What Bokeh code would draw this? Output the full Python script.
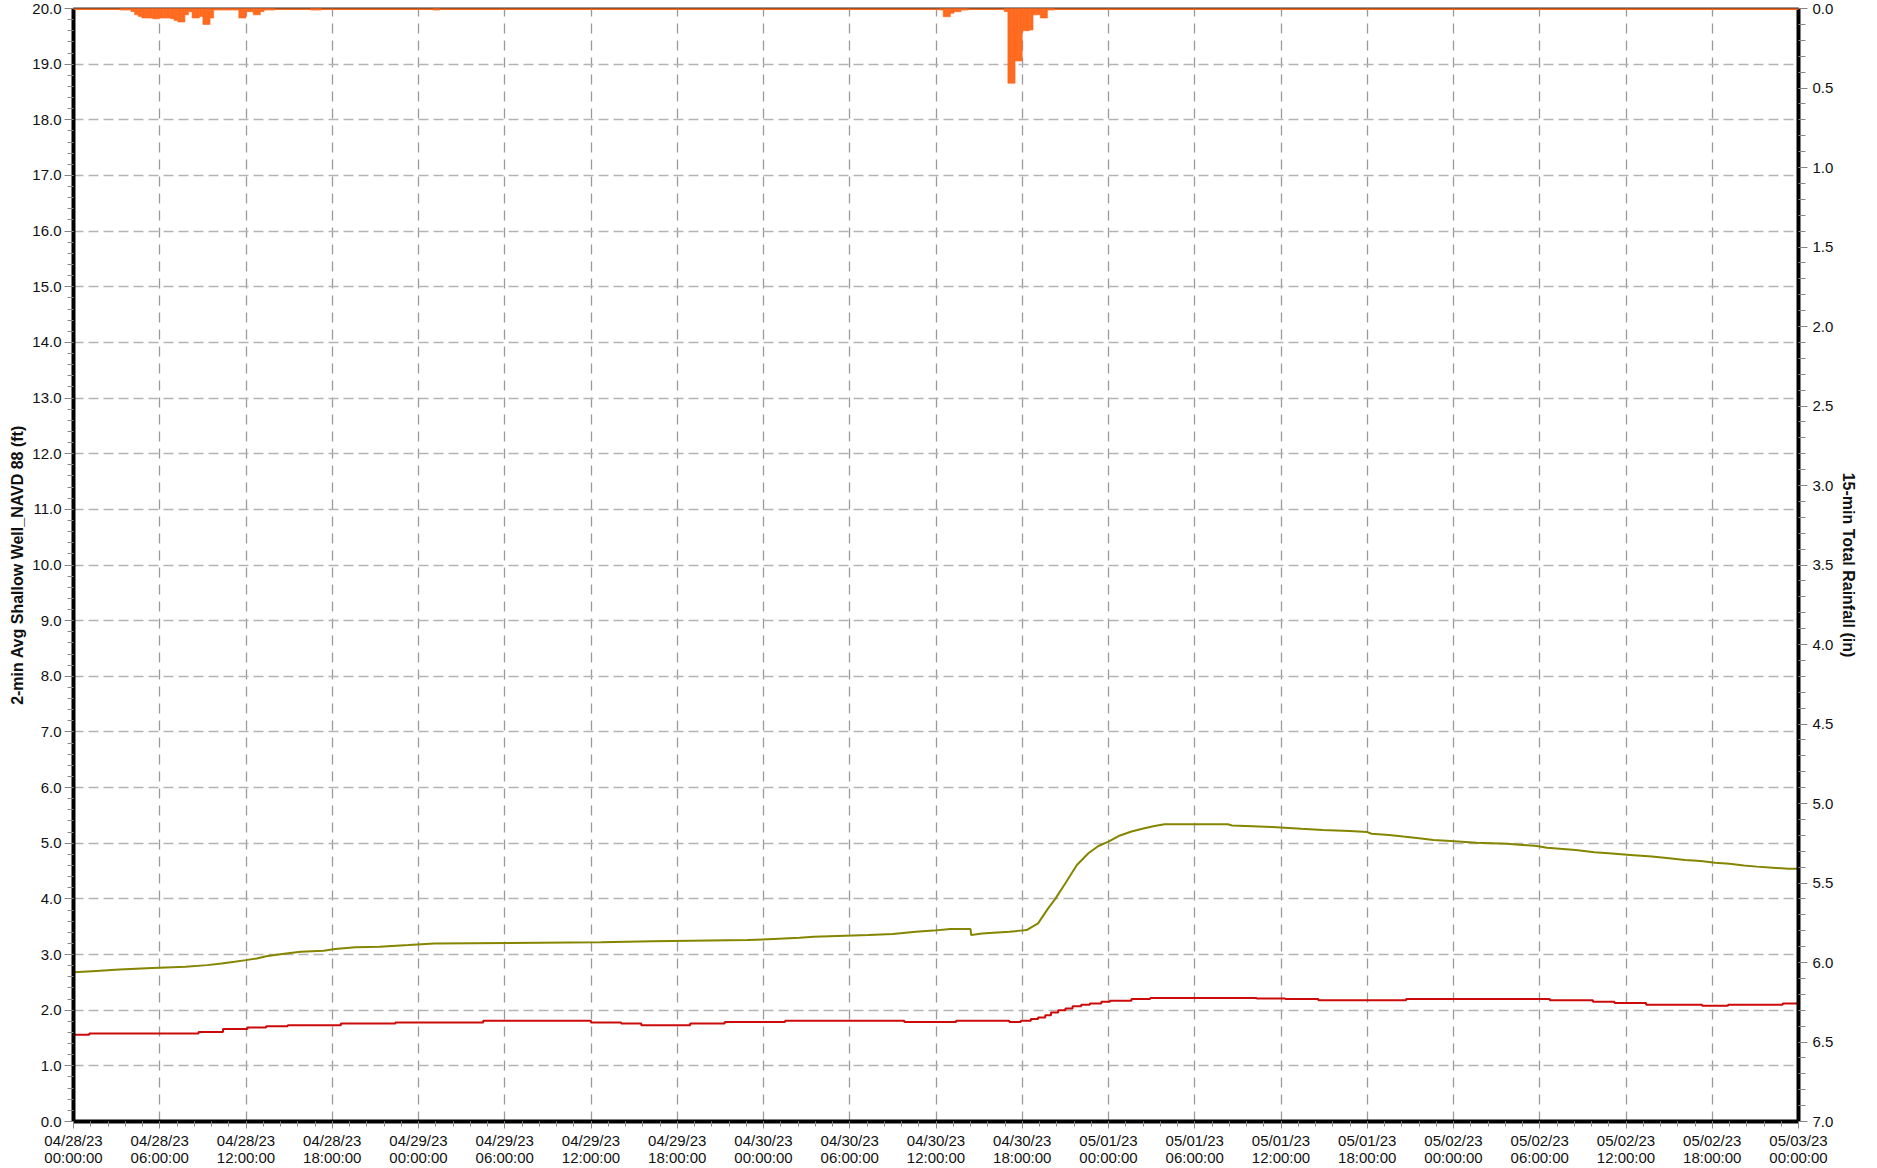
import pandas as pd
from bokeh.plotting import figure
from bokeh.models import (Range1d, LinearAxis, FixedTicker, DatetimeTickFormatter,
                          NumeralTickFormatter, Span, ColumnDataSource)
from bokeh.embed import file_html
from bokeh.resources import INLINE

# ---------------- data ----------------
start = "2023-04-28 00:00"
end = "2023-05-03 00:00"

# Shallow well (olive): hours since start, water level ft NAVD 88
well_a_hours = [0.0, 1.3, 3.2, 5.5, 7.8, 9.3, 10.3, 11.2, 12.0, 12.75, 13.4, 14.0, 14.8, 15.8,
                17.4, 18.2, 19.6, 21.3, 23.3, 25.1, 36.7, 40.3, 46.9, 48.7, 50.5, 51.5, 55.3,
                57.0, 58.6, 59.8, 61.0, 62.4, 62.45, 63.2, 65.1, 65.9, 66.3, 67.1, 67.8, 68.3,
                69.0, 69.8, 70.6, 71.3, 72.0, 72.7, 73.6, 74.5, 75.2, 75.9, 80.3, 80.6, 83.4,
                85.4, 86.9, 88.8, 90.0, 90.3, 91.5, 92.5, 93.6, 94.6, 95.8, 97.6, 99.7, 101.8,
                102.5, 104.5, 105.8, 106.8, 108.3, 109.8, 111.0, 112.1, 113.2, 114.2, 115.2,
                116.2, 117.1, 118.2, 119.3, 120.0]
well_a_ft = [2.68, 2.70, 2.73, 2.76, 2.78, 2.81, 2.84, 2.87, 2.90, 2.93, 2.97, 2.99, 3.02, 3.05,
             3.07, 3.10, 3.13, 3.14, 3.17, 3.20, 3.22, 3.24, 3.26, 3.28, 3.30, 3.32, 3.35,
             3.37, 3.41, 3.43, 3.46, 3.46, 3.35, 3.38, 3.41, 3.43, 3.44, 3.56, 3.83, 4.00,
             4.28, 4.61, 4.82, 4.95, 5.03, 5.13, 5.21, 5.27, 5.31, 5.34, 5.34, 5.32, 5.29,
             5.26, 5.24, 5.22, 5.20, 5.17, 5.15, 5.12, 5.09, 5.06, 5.04, 5.01, 4.99, 4.95,
             4.92, 4.88, 4.84, 4.82, 4.79, 4.76, 4.73, 4.70, 4.68, 4.65, 4.63,
             4.60, 4.58, 4.56, 4.54, 4.54]

# Second well (red): step changes, hours since start, ft
well_b_hours = [0.0, 1.1, 8.7, 10.4, 12.1, 13.4, 14.9, 18.6, 22.4, 28.5, 36.0, 38.1, 39.5, 42.9,
                45.3, 49.5, 57.8, 61.4, 65.1, 65.9, 66.6, 67.1, 67.6, 68.0, 68.5, 69.0, 69.5,
                70.1, 70.7, 71.5, 72.1, 73.6, 74.9, 82.3, 84.3, 86.6, 92.7, 102.7, 105.7,
                107.2, 109.4, 113.3, 115.1, 118.9, 120.0]
well_b_ft = [1.56, 1.58, 1.61, 1.66, 1.69, 1.71, 1.73, 1.76, 1.78, 1.81, 1.78, 1.76, 1.73, 1.76,
             1.79, 1.81, 1.79, 1.81, 1.79, 1.81, 1.84, 1.87, 1.91, 1.96, 2.00, 2.03, 2.07,
             2.10, 2.12, 2.15, 2.17, 2.20, 2.22, 2.21, 2.20, 2.18, 2.20, 2.18, 2.15,
             2.13, 2.10, 2.08, 2.10, 2.12, 2.12]

# 15-min total rainfall: interval start (hours since start), inches
rain_hours = [3.25, 3.5, 3.75, 4.0, 4.25, 4.5, 4.75, 5.0, 5.25, 5.5, 5.75, 6.0, 6.25, 6.5, 6.75,
              7.0, 7.25, 7.5, 7.75, 8.0, 8.25, 8.5, 8.75, 9.0, 9.25, 9.5, 9.75, 10.0, 10.25,
              10.5, 10.75, 11.0, 11.25, 11.5, 11.75, 12.0, 12.25, 12.5, 12.75, 13.0, 13.25,
              13.5, 13.75, 16.5, 16.75, 17.0, 25.0, 25.25,
              60.25, 60.5, 60.75, 61.0, 61.25, 61.5, 61.75, 62.0, 64.75, 65.0, 65.25, 65.5,
              65.75, 66.0, 66.25, 66.5, 66.75, 67.0, 67.25, 67.5, 67.75, 68.0]
rain_in = [0.01, 0.01, 0.01, 0.02, 0.04, 0.05, 0.06, 0.06, 0.06, 0.065, 0.065, 0.06, 0.06, 0.06,
           0.065, 0.075, 0.085, 0.085, 0.04, 0.02, 0.06, 0.06, 0.05, 0.10, 0.10, 0.06, 0.01,
           0.01, 0.01, 0.01, 0.01, 0.01, 0.01, 0.06, 0.06, 0.02, 0.02, 0.04, 0.04, 0.02, 0.01,
           0.01, 0.01, 0.01, 0.01, 0.01, 0.01, 0.01,
           0.01, 0.052, 0.052, 0.03, 0.02, 0.02, 0.01, 0.01, 0.02, 0.47, 0.47, 0.33,
           0.33, 0.14, 0.14, 0.135, 0.04, 0.04, 0.06, 0.06, 0.01, 0.01]

left_ticks = [float(v) for v in range(0, 21)]
right_ticks = [v / 2 for v in range(0, 15)]
x_tick_hours = list(range(0, 121, 6))
x_minor_minutes = list(range(0, 120 * 60 + 1, 72))

left_label = "2-min Avg Shallow Well_NAVD 88 (ft)"
right_label = "15-min Total Rainfall (in)"
tick_fmt = "%m/%d/%y\n%H:%M:%S"

# ---------------- build ----------------
t0 = pd.Timestamp(start)
t1 = pd.Timestamp(end)


def ms(ts):
    return ts.value / 1e6


def hours_to_time(hs):
    return [t0 + pd.Timedelta(hours=h) for h in hs]


src_a = ColumnDataSource(dict(t=hours_to_time(well_a_hours), v=well_a_ft))
src_b = ColumnDataSource(dict(t=hours_to_time(well_b_hours), v=well_b_ft))
src_r = ColumnDataSource(dict(t=[t0 + pd.Timedelta(hours=h + 0.125) for h in rain_hours], v=rain_in))

FONT = "Liberation Sans"
ORANGE = "#FF6A1F"
OLIVE = "#858500"
RED = "#CC0A0A"

p = figure(frame_width=1725, frame_height=1113, x_axis_type="datetime",
           x_range=Range1d(t0, t1), y_range=Range1d(0, 20),
           output_backend="svg", toolbar_location=None,
           min_border_left=73, min_border_top=8, min_border_right=58, min_border_bottom=44,
           background_fill_color="white", border_fill_color="white")
p.outline_line_color = "#333333"
p.outline_line_width = 2

p.extra_y_ranges = {"rain": Range1d(7, 0)}

# x axis
xa = p.xaxis[0]
xa.ticker = FixedTicker(ticks=[ms(t0 + pd.Timedelta(hours=h)) for h in x_tick_hours],
                        minor_ticks=[ms(t0 + pd.Timedelta(minutes=m)) for m in x_minor_minutes])
xa.formatter = DatetimeTickFormatter(microseconds=tick_fmt, milliseconds=tick_fmt, seconds=tick_fmt,
                                     minsec=tick_fmt, minutes=tick_fmt, hourmin=tick_fmt,
                                     hours=tick_fmt, days=tick_fmt, months=tick_fmt, years=tick_fmt)

# left axis
ya = p.yaxis[0]
ya.ticker = FixedTicker(ticks=left_ticks, minor_ticks=[i / 5 for i in range(0, 101)])
ya.formatter = NumeralTickFormatter(format="0.0")
ya.axis_label = left_label

# right axis
ra = LinearAxis(y_range_name="rain", axis_label=right_label,
                ticker=FixedTicker(ticks=right_ticks, minor_ticks=[i / 10 for i in range(0, 71)]),
                formatter=NumeralTickFormatter(format="0.0"))
p.add_layout(ra, "right")

for ax in (xa, ya, ra):
    ax.axis_line_color = "black"
    ax.axis_line_width = 4
    ax.major_tick_line_color = "#888888"
    ax.minor_tick_line_color = "#888888"
    ax.major_tick_line_width = 1
    ax.minor_tick_line_width = 1
    ax.major_tick_in = 0
    ax.minor_tick_in = 0
    ax.major_label_text_font = FONT
    ax.major_label_text_font_size = "15px"
    ax.major_label_text_color = "#111111"
    ax.axis_label_text_font = FONT
    ax.axis_label_text_font_size = "16px"
    ax.axis_label_text_font_style = "bold"
    ax.axis_label_text_color = "#111111"

ya.major_tick_out = 9
ya.minor_tick_out = 6
ya.major_label_standoff = 3
ya.axis_label_standoff = 3
ra.major_tick_out = 9
ra.minor_tick_out = 7
ra.major_label_standoff = 5
ra.axis_label_standoff = 4
xa.major_tick_out = 7
xa.minor_tick_out = 5
xa.major_label_standoff = 3
xa.major_label_text_line_height = 1.05

# grids
p.xgrid.grid_line_color = "#9a9a9a"
p.xgrid.grid_line_width = 1.3
p.xgrid.grid_line_dash = "10 7"
p.ygrid.grid_line_color = "#b4b4b4"
p.ygrid.grid_line_width = 1.5
p.ygrid.grid_line_dash = "10 5"

# rain
p.vbar(x="t", width=15 * 60 * 1000, top="v", bottom=0, source=src_r, y_range_name="rain",
       fill_color=ORANGE, line_color=ORANGE, line_width=0.6)
p.add_layout(Span(location=0, dimension="width", y_range_name="rain",
                  line_color=ORANGE, line_width=3))

# wells
p.line(x="t", y="v", source=src_a, line_color=OLIVE, line_width=2)
p.step(x="t", y="v", source=src_b, mode="after", line_color=RED, line_width=2)

open("out.html", "w").write(file_html(p, INLINE))
